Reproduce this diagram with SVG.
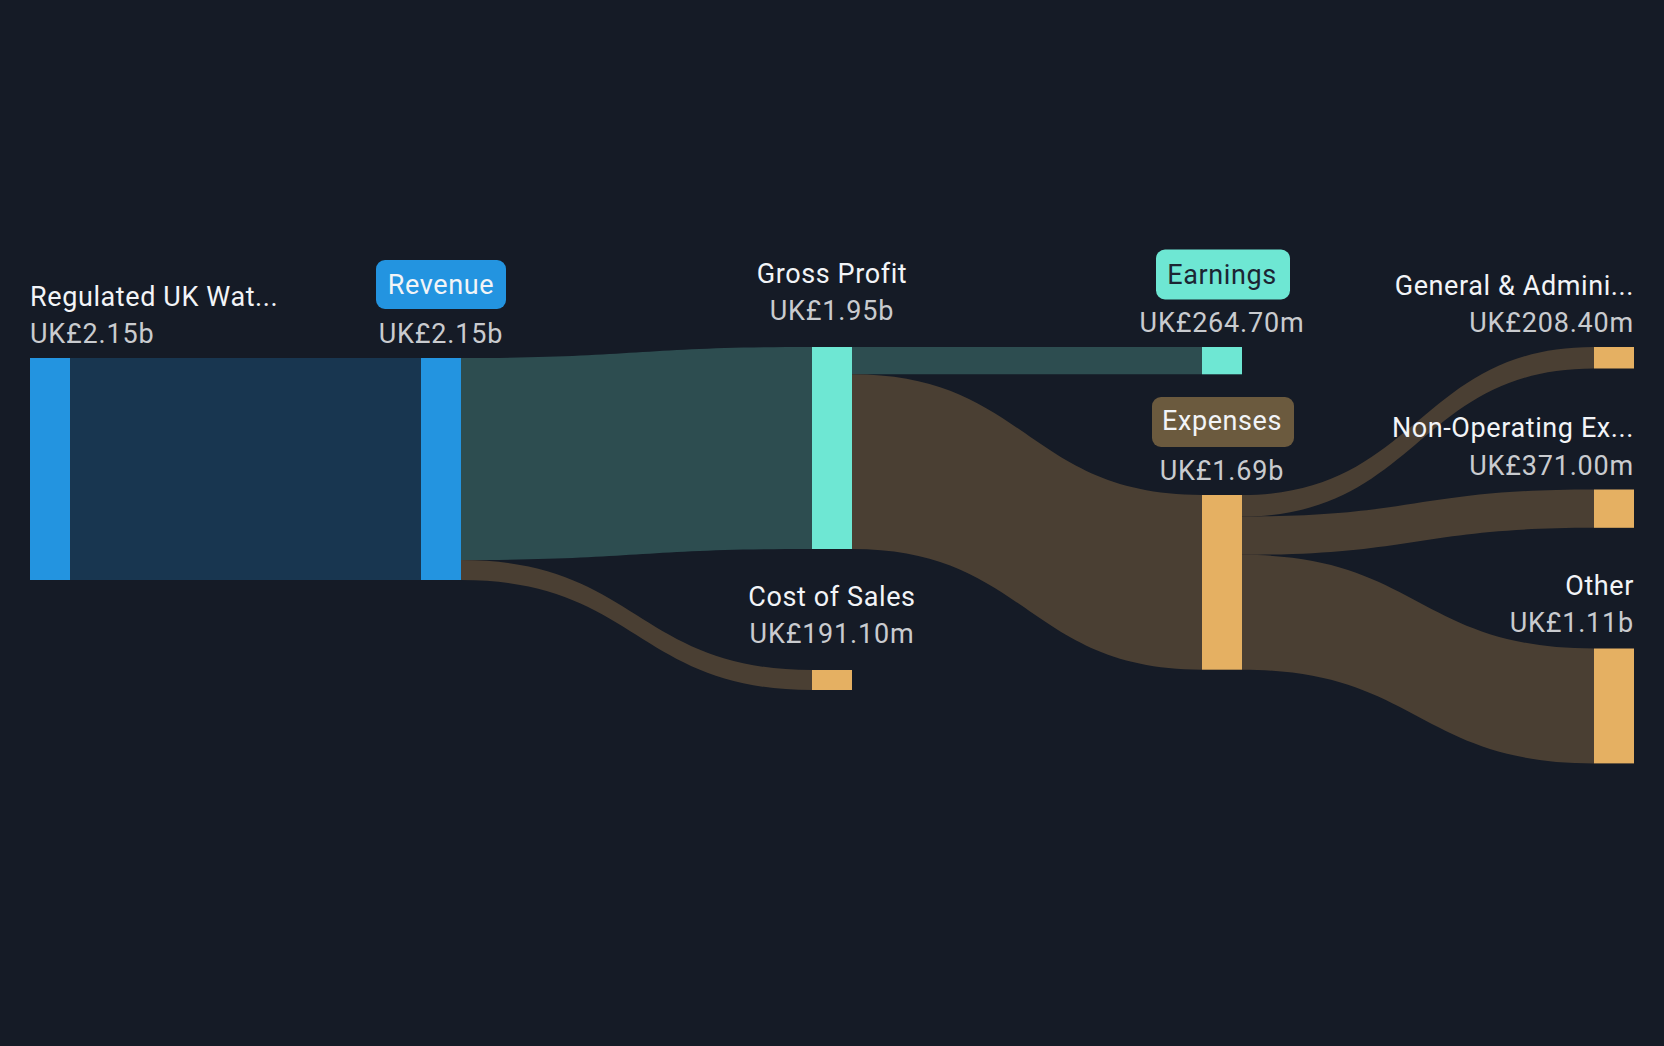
<svg xmlns="http://www.w3.org/2000/svg" width="1664" height="1046" viewBox="0 0 1664 1046">
<style>
.t{font-family:Roboto,"Liberation Sans",sans-serif;font-size:27px;letter-spacing:0.6px;fill:#f2f4f7}
.v{font-family:Roboto,"Liberation Sans",sans-serif;font-size:27px;letter-spacing:0.8px;fill:#c9cbcf}
.m{text-anchor:middle}
.e{text-anchor:end}
.lb{fill:#183650}
.lt{fill:#2d4d50}
.lr{fill:#4a3f33}
.nb{fill:#2394e0}
.nt{fill:#6ee7d3}
.no{fill:#e5b062}
</style>
<rect x="0" y="0" width="1664" height="1046" fill="#151b26"/>
<g id="connectors">
<path class="lb" d="M70,358 L421,358 L421,580 L70,580 Z"/>
<path class="lt" d="M461,358 C636.5,358 636.5,347 812,347 L812,549 C636.5,549 636.5,560 461,560 Z"/>
<path class="lr" d="M461,560 C636.5,560 636.5,670 812,670 L812,690 C636.5,690 636.5,580 461,580 Z"/>
<path class="lt" d="M852,347 L1202,347 L1202,374.3 L852,374.3 Z"/>
<path class="lr" d="M852,374.3 C1027,374.3 1027,495 1202,495 L1202,669.7 C1027,669.7 1027,549 852,549 Z"/>
<path class="lr" d="M1242,495 C1418,495 1418,347 1594,347 L1594,368.5 C1418,368.5 1418,516.5 1242,516.5 Z"/>
<path class="lr" d="M1242,516.5 C1418,516.5 1418,489.5 1594,489.5 L1594,527.8 C1418,527.8 1418,554.8 1242,554.8 Z"/>
<path class="lr" d="M1242,554.8 C1418,554.8 1418,648.5 1594,648.5 L1594,763.4 C1418,763.4 1418,669.7 1242,669.7 Z"/>
</g>
<g id="node-regulated">
<rect class="nb" x="30" y="358" width="40" height="222"/>
<text class="t" x="30" y="306">Regulated UK Wat...</text>
<text class="v" x="30" y="343">UK£2.15b</text>
</g>
<g id="node-revenue">
<rect class="nb" x="421" y="358" width="40" height="222"/>
<rect class="nb" x="376" y="260" width="130" height="49" rx="9"/>
<text class="t m" x="441" y="294" fill="#f5f7fa">Revenue</text>
<text class="v m" x="441" y="343">UK£2.15b</text>
</g>
<g id="node-gross-profit">
<rect class="nt" x="812" y="347" width="40" height="202"/>
<text class="t m" x="832" y="283">Gross Profit</text>
<text class="v m" x="832" y="320">UK£1.95b</text>
</g>
<g id="node-cost-of-sales">
<rect class="no" x="812" y="670" width="40" height="20"/>
<text class="t m" x="832" y="606">Cost of Sales</text>
<text class="v m" x="832" y="643">UK£191.10m</text>
</g>
<g id="node-earnings">
<rect class="nt" x="1202" y="347" width="40" height="27.3"/>
<rect class="nt" x="1156" y="249.5" width="134" height="50" rx="9"/>
<text class="t m" x="1222" y="284" style="fill:#1c2533">Earnings</text>
<text class="v m" x="1222" y="332">UK£264.70m</text>
</g>
<g id="node-expenses">
<rect class="no" x="1202" y="495" width="40" height="174.7"/>
<rect x="1152" y="397" width="142" height="50" rx="9" fill="#6b5a3e"/>
<text class="t m" x="1222" y="430">Expenses</text>
<text class="v m" x="1222" y="480">UK£1.69b</text>
</g>
<g id="node-general-admin">
<rect class="no" x="1594" y="347" width="40" height="21.5"/>
<text class="t e" x="1634" y="295">General &amp; Admini...</text>
<text class="v e" x="1634" y="332">UK£208.40m</text>
</g>
<g id="node-non-operating">
<rect class="no" x="1594" y="489.5" width="40" height="38.3"/>
<text class="t e" x="1634" y="437">Non-Operating Ex...</text>
<text class="v e" x="1634" y="475">UK£371.00m</text>
</g>
<g id="node-other">
<rect class="no" x="1594" y="648.5" width="40" height="114.9"/>
<text class="t e" x="1634" y="595">Other</text>
<text class="v e" x="1634" y="632">UK£1.11b</text>
</g>
</svg>
